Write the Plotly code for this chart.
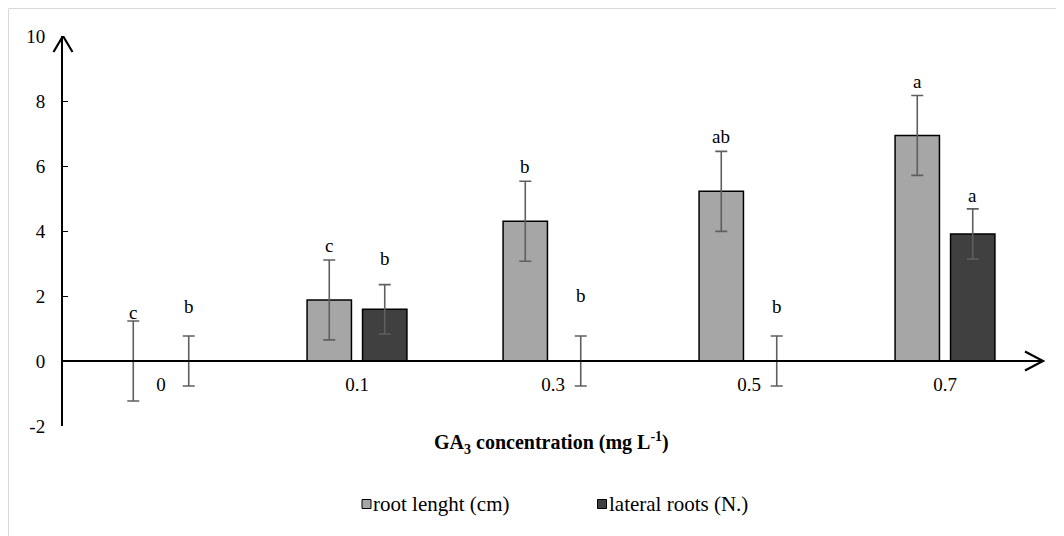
import plotly.graph_objects as go

# ---- data ----
categories = ["0", "0.1", "0.3", "0.5", "0.7"]
series_names = ["root lenght (cm)", "lateral roots (N.)"]
root_length = [0, 1.88, 4.30, 5.22, 6.94]
root_err = [1.23, 1.23, 1.23, 1.23, 1.23]
lateral_roots = [0, 1.59, 0, 0, 3.91]
lateral_err = [0.77, 0.76, 0.77, 0.77, 0.77]
root_letters = ["c", "c", "b", "ab", "a"]
lateral_letters = ["b", "b", "b", "b", "a"]
root_letter_y = [1.26, 3.31, 5.75, 6.67, 8.36]
lateral_letter_y = [1.45, 2.93, 1.78, 1.45, 4.85]
y_ticks = [-2, 0, 2, 4, 6, 8, 10]

# ---- style ----
OFF = 8  # page body margin of the html page
W, H = 1064 - OFF, 536 - OFF
ML, MR, MT, MB = 63 - OFF, 21, 36 - OFF, 110
PW, PH = W - ML - MR, H - MT - MB
FONT = "Liberation Serif, Times New Roman, serif"
FS = 19
C_ROOT, C_LAT = "#a6a6a6", "#404040"
C_ERR = "#5f5f5f"
BARGAP, GROUPGAP = 0.434, 0.2
YMIN, YMAX = -2, 10


def px_x(px):
    # px given in screen coordinates of the reference
    return (px - OFF - ML) / PW


def px_y(py):
    return (H - MB - (py - OFF)) / PH


fig = go.Figure()
for name, vals, errs, col in [
    (series_names[0], root_length, root_err, C_ROOT),
    (series_names[1], lateral_roots, lateral_err, C_LAT),
]:
    fig.add_trace(go.Bar(
        name=name, x=categories, y=vals,
        marker=dict(color=col, line=dict(color="#000000", width=1.5)),
        error_y=dict(type="data", array=errs, visible=True,
                     color=C_ERR, thickness=1.6, width=6),
        showlegend=False,
    ))

# significance letters
cat_px = PW / len(categories)
off = cat_px * (1 - BARGAP) / 4
annotations = []
for letters, ys, sgn in [(root_letters, root_letter_y, -1),
                         (lateral_letters, lateral_letter_y, 1)]:
    for i, (t, yv) in enumerate(zip(letters, ys)):
        annotations.append(dict(
            x=i, y=yv, xref="x", yref="y", text=t, showarrow=False,
            xshift=sgn * off, yshift=-5, yanchor="bottom", xanchor="center",
            font=dict(family=FONT, size=FS, color="#000000"),
        ))

# x-axis title
annotations.append(dict(
    x=px_x(551), y=px_y(443), xref="paper", yref="paper", showarrow=False,
    text="<b>GA<sub>3</sub> concentration (mg L<sup>-1</sup>)</b>",
    xanchor="center", yanchor="middle",
    font=dict(family=FONT, size=20, color="#000000"),
))

# manual legend
shapes = []
leg_items = [(series_names[0], C_ROOT, 366.5, 371), (series_names[1], C_LAT, 602, 607)]
for name, col, sx, tx in leg_items:
    shapes.append(dict(
        type="rect", xref="paper", yref="paper",
        xsizemode="pixel", ysizemode="pixel",
        xanchor=px_x(sx), yanchor=px_y(504),
        x0=-4.5, x1=4.5, y0=-4.5, y1=4.5,
        fillcolor=col, line=dict(color="#000000", width=1),
    ))
    annotations.append(dict(
        x=px_x(tx), y=px_y(504), xref="paper", yref="paper", showarrow=False,
        text=name, xanchor="left", yanchor="middle",
        font=dict(family=FONT, size=21, color="#000000"),
    ))

# chart border
shapes.append(dict(
    type="rect", xref="paper", yref="paper", layer="below",
    x0=(0.5 - ML) / PW, x1=(W + 20 - ML) / PW,
    y0=(H - MB - (H + 20)) / PH, y1=(H - MB - 0.5) / PH,
    line=dict(color="#d9d9d9", width=1), fillcolor="rgba(0,0,0,0)",
))

# axis arrow heads (open chevrons)
shapes.append(dict(
    type="path", xref="paper", yref="y",
    xsizemode="pixel", ysizemode="pixel",
    xanchor=0, yanchor=YMAX,
    path="M -9.5,-16 L 0,0 L 9.5,-16",
    line=dict(color="#000000", width=2.2),
))
shapes.append(dict(
    type="path", xref="paper", yref="y",
    xsizemode="pixel", ysizemode="pixel",
    xanchor=1, yanchor=0,
    path="M -18,9.5 L 0,0 L -18,-9.5",
    line=dict(color="#000000", width=2.2),
))

fig.update_layout(
    width=W, height=H, autosize=False,
    margin=dict(l=ML, r=MR, t=MT, b=MB, pad=0),
    paper_bgcolor="#ffffff", plot_bgcolor="#ffffff",
    barmode="group", bargap=BARGAP, bargroupgap=GROUPGAP,
    font=dict(family=FONT, size=FS, color="#000000"),
    annotations=annotations, shapes=shapes, showlegend=False,
)
fig.update_xaxes(
    type="category", categoryorder="array", categoryarray=categories,
    range=[-0.5, len(categories) - 0.5],
    anchor="free", position=(0 - YMIN) / (YMAX - YMIN),
    showline=True, linecolor="#000000", linewidth=2,
    ticks="", showgrid=False, zeroline=False,
    ticklabelstandoff=6,
    tickfont=dict(family=FONT, size=FS, color="#000000"),
)
fig.update_yaxes(
    range=[YMIN, YMAX], tickvals=y_ticks, ticktext=[str(v) for v in y_ticks],
    showline=True, linecolor="#000000", linewidth=2,
    ticks="inside", ticklen=5, tickwidth=1, tickcolor="#000000",
    showgrid=False, zeroline=False,
    ticklabelstandoff=12,
    tickfont=dict(family=FONT, size=FS, color="#000000"),
)

fig.write_html("out.html")
